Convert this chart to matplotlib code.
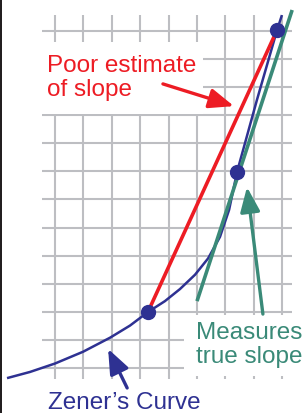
import matplotlib
matplotlib.use("Agg")
import numpy as np
import matplotlib.pyplot as plt
from matplotlib.patches import Rectangle, FancyArrowPatch

plt.rcParams['font.family'] = ['Liberation Sans', 'DejaVu Sans']

# grid positions (grid units)
grid_x = [0, 1, 2, 3, 4, 5, 6, 7, 8]
grid_y = [0, 1, 2, 3, 4, 5, 6, 7, 8, 9, 10, 11, 12]

# Zener's curve
curve_x = [-1.69, -0.88, 0.00, 0.99, 1.94, 2.64, 3.27, 3.87, 4.40, 4.93,
           5.39, 5.81, 6.13, 6.41, 7.11, 7.82, 7.99]
curve_y = [-0.36, -0.14, 0.16, 0.58, 1.08, 1.51, 1.99, 2.38, 2.81, 3.32,
           3.90, 4.67, 5.63, 6.98, 9.54, 12.03, 12.56]
dot_idx = [6, 13, 15]

# chord (poor estimate) and tangent (true slope)
chord_x = [3.27, 7.82]
chord_y = [1.99, 12.03]
tangent_x = [5.00, 8.35]
tangent_y = [2.38, 12.74]

BLUE = '#2e3192'
RED = '#ed1c24'
GREEN = '#3a8a78'
GRID = '#bdbec2'

fig = plt.figure(figsize=(3.08, 4.14), dpi=100)
ax = fig.add_axes([0, 0, 1, 1])
ax.set_xlim(-1.937, 8.908)
ax.set_ylim(-1.601, 13.132)
ax.axis('off')

ax.vlines(grid_x, -0.39, 12.56, color=GRID, lw=1.5, zorder=1)
ax.hlines(grid_y, -0.46, 8.35, color=GRID, lw=1.5, zorder=1)

# white boxes behind the labels
ax.add_patch(Rectangle((-0.5, 9.04), 5.71, 2.57, fc='white', ec='none', zorder=2))
ax.add_patch(Rectangle((4.54, -0.29), 4.0, 2.18, fc='white', ec='none', zorder=2))

ax.plot(curve_x, curve_y, color=BLUE, lw=1.8, zorder=3, solid_capstyle='butt')
ax.plot(chord_x, chord_y, color=RED, lw=2.6, zorder=3, solid_capstyle='butt')
ax.plot(tangent_x, tangent_y, color=GREEN, lw=2.6, zorder=3, solid_capstyle='butt')
ax.plot([curve_x[i] for i in dot_idx], [curve_y[i] for i in dot_idx], 'o',
        color=BLUE, ms=10, zorder=4)

def arrow(tail, tip, color):
    a = FancyArrowPatch(tail, tip, arrowstyle='-|>,head_length=1.5,head_width=0.6',
                        mutation_scale=10, color=color, lw=2.4, zorder=5,
                        shrinkA=0, shrinkB=0)
    ax.add_patch(a)

arrow((3.80, 10.11), (6.30, 9.32), RED)
arrow((7.32, 1.92), (6.76, 6.44), GREEN)
arrow((2.54, -0.71), (1.87, 0.68), BLUE)

ax.text(-0.28, 11.17, 'Poor estimate\nof slope', color=RED, fontsize=17.5,
        va='top', ha='left', linespacing=1.1, zorder=6)
ax.text(4.96, 1.67, 'Measures\ntrue slope', color=GREEN, fontsize=17.5,
        va='top', ha='left', linespacing=1.1, zorder=6)
ax.text(-0.25, -1.42, 'Zener\u2019s Curve', color=BLUE, fontsize=17.5,
        va='baseline', ha='left', zorder=6)

# dark edge on the left
fig.patches.append(Rectangle((0, 0), 2.5 / 308, 1, transform=fig.transFigure,
                             fc='#231f20', ec='none'))

fig.savefig('out.png', dpi=100)
